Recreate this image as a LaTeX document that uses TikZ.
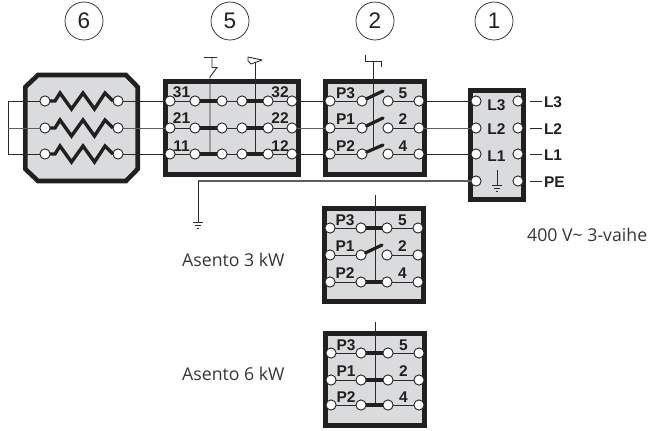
\documentclass[tikz,border=0pt]{standalone}
\usepackage{fontspec}
\setmainfont{Liberation Sans}
\newfontfamily\capfont{Open Sans}
\definecolor{ink}{HTML}{231F20}
\definecolor{panel}{HTML}{D9DBDC}
\definecolor{wiredark}{HTML}{2A2A2A}
\definecolor{wiregray}{HTML}{5E5E5E}
\tikzset{
  panelbox/.style={draw=ink,fill=panel,line width=4.6bp,rectangle,inner sep=0pt,outer sep=0pt,line join=miter},
  term/.style={circle,draw=ink,fill=white,line width=0.9bp,minimum size=10.2bp,inner sep=0pt,outer sep=0pt},
  wirea/.style={draw=wiredark,line width=0.9bp},
  wireb/.style={draw=wiregray,line width=1bp},
  rod/.style={draw=wiredark,line width=0.9bp},
  bar/.style={draw=ink,line width=3.6bp},
  blade/.style={draw=ink,line width=3.2bp,line cap=round},
  lab/.style={font=\bfseries\fontsize{15.5bp}{15.5bp}\selectfont,text=ink,inner sep=0pt,outer sep=0pt},
  captext/.style={font=\capfont\fontsize{17.7bp}{20bp}\selectfont,text=ink!90,inner sep=0pt,anchor=west},
  num/.style={circle,draw=ink,line width=0.7bp,minimum size=38bp,inner sep=0pt,font=\fontsize{22.5bp}{22.5bp}\selectfont,text=ink},
}
% contact row of a selector switch: name, y, x1..x4
\newcommand{\swrow}[6]{%
  \node[term] (#1a) at (#3,#2) {};
  \node[term] (#1b) at (#4,#2) {};
  \node[term] (#1c) at (#5,#2) {};
  \node[term] (#1d) at (#6,#2) {};
  \draw[wirea] (#1a) -- (#1b);
  \draw[wirea] (#1c) -- (#1d);
}
\begin{document}
\begin{tikzpicture}[x=1bp,y=-1bp]
\useasboundingbox (0,0) rectangle (649,430);
% numbered circles
\node[num] (n6) at (84,21) {6};
\node[num] (n5) at (230,21) {5};
\node[num] (n2) at (375,21) {2};
\node[num] (n1) at (494,21) {1};

% panels
\draw[panelbox] (38,75) -- (126,75) -- (137.7,87) -- (137.7,169) -- (126,181) -- (38,181) -- (25.3,169) -- (25.3,87) -- cycle;
\node[panelbox,minimum width=133.4bp,minimum height=93.4bp] (b5) at (232,128) {};
\node[panelbox,minimum width=99.4bp,minimum height=93.4bp] (b2) at (375,128) {};
\node[panelbox,minimum width=53.4bp,minimum height=109.4bp] (b1) at (497,145) {};
\node[panelbox,minimum width=99.4bp,minimum height=93.4bp] (bA) at (374,255) {};
\node[panelbox,minimum width=99.4bp,minimum height=92.4bp] (bB) at (375,379.5) {};

% box 5 actuator rods
\coordinate (z5a) at (204,57.5); \coordinate (z5b) at (217,57.5);
\coordinate (z5c) at (212,57.5); \coordinate (z5d) at (212,67.5);
\coordinate (z5e) at (217,67.5); \coordinate (z5f) at (210,77);
\coordinate (z5g) at (210,154);
\draw[rod] (z5a) -- (z5b) (z5c) -- (z5d) -- (z5e) -- (z5f) -- (z5g);
\coordinate (f5a) at (255,60); \coordinate (f5b) at (255,154);
\draw[rod] (f5a) -- (f5b);
\draw[rod,fill=white,line join=round] (248,57) -- (262,60) -- (251,64) -- (248,61) -- cycle;

% box 2 rod
\coordinate (t2a) at (365,55); \coordinate (t2b) at (365,61);
\coordinate (t2c) at (381,61); \coordinate (t2d) at (381,67);
\coordinate (t2e) at (373,61); \coordinate (t2f) at (373,149);
\draw[rod] (t2a) -- (t2b) -- (t2c) -- (t2d) (t2e) -- (t2f);
% lower rods
\coordinate (rAa) at (375,195); \coordinate (rAb) at (375,282);
\draw[rod] (rAa) -- (rAb);
\coordinate (rBa) at (375,322); \coordinate (rBb) at (375,405);
\draw[rod] (rBa) -- (rBb);

% box 6 terminals and resistors
\foreach \n/\y in {a/101,b/128,c/154}{
  \node[term] (r\n l) at (45,\y) {};
  \node[term] (r\n r) at (118,\y) {};
  \draw[draw=ink,line width=3.4bp,line join=miter] (r\n l.east) -- (55,\y) -- (60,\y-8) -- (71.5,\y+8) -- (83,\y-8) -- (94.5,\y+8) -- (105,\y-8) -- (113,\y);
}
% star point
\coordinate (sa) at (8,101); \coordinate (sb) at (8,128); \coordinate (sc) at (8,154);
\draw[wirea] (ral) -- (sa) -- (sc) -- (rcl);
\draw[wireb] (rbl) -- (sb);

% box 5 terminals
\foreach \n/\y in {a/101,b/128,c/154}{
  \node[term] (f\n1) at (170,\y) {};
  \node[term] (f\n2) at (195,\y) {};
  \node[term] (f\n3) at (222,\y) {};
  \node[term] (f\n4) at (242,\y) {};
  \node[term] (f\n5) at (268,\y) {};
  \node[term] (f\n6) at (292,\y) {};
  \draw[wirea] (f\n1) -- (f\n2);
  \draw[bar] (f\n2) -- (f\n3);
  \draw[wirea] (f\n3) -- (f\n4);
  \draw[bar] (f\n4) -- (f\n5);
  \draw[wirea] (f\n5) -- (f\n6);
}

% box 2 terminals
\swrow{sa}{101}{330}{362}{388}{419}
\swrow{sb}{128}{330}{362}{388}{419}
\swrow{sc}{154}{330}{362}{388}{419}
\coordinate (ba) at (383,91); \coordinate (bb) at (383,118); \coordinate (bc) at (383,145);
\draw[blade] (sab) -- (ba);
\draw[blade] (sbb) -- (bb);
\draw[blade] (scb) -- (bc);

% box 1 terminals
\foreach \n/\y in {a/101,b/128,c/154,d/181}{
  \node[term] (m\n l) at (476,\y) {};
  \node[term] (m\n r) at (518,\y) {};
}
% box A
\swrow{xa}{228}{330}{361}{387}{418}
\swrow{xb}{255}{330}{361}{387}{418}
\swrow{xc}{282}{330}{361}{387}{418}
\draw[bar] (xab) -- (xac);
\coordinate (xbl) at (382,245);
\draw[blade] (xbb) -- (xbl);
\draw[bar] (xcb) -- (xcc);
% box B
\swrow{ya}{353}{331}{361}{388}{419}
\swrow{yb}{380}{331}{361}{388}{419}
\swrow{yc}{405}{331}{361}{388}{419}
\draw[bar] (yab) -- (yac);
\draw[bar] (ybb) -- (ybc);
\draw[bar] (ycb) -- (ycc);

% inter-panel wiring
\draw[wirea] (rar) -- (fa1);
\draw[wireb] (rbr) -- (fb1);
\draw[wirea] (rcr) -- (fc1);
\draw[wirea] (fa6) -- (saa);
\draw[wireb] (fb6) -- (sba);
\draw[wirea] (fc6) -- (sca);
\draw[wirea] (sad) -- (mal);
\draw[wireb] (sbd) -- (mbl);
\draw[wirea] (scd) -- (mcl);

% protective earth wire
\coordinate (ga) at (198,181); \coordinate (gb) at (198,222);
\draw[wireb,line width=1.3bp] (mdl) -- (ga);
\draw[wirea] (ga) -- (gb);
\coordinate (g1a) at (193,222); \coordinate (g1b) at (203,222);
\coordinate (g2a) at (195,225); \coordinate (g2b) at (201,225);
\coordinate (g3a) at (197,228); \coordinate (g3b) at (199,228);
\draw[rod,line width=0.7bp] (g1a) -- (g1b) (g2a) -- (g2b) (g3a) -- (g3b);

% earth symbol in box 1
\coordinate (e0) at (497,170); \coordinate (e1) at (497,185);
\draw[rod] (e0) -- (e1);
\coordinate (e2a) at (492,185); \coordinate (e2b) at (502,185);
\coordinate (e3a) at (494,188); \coordinate (e3b) at (500,188);
\coordinate (e4a) at (496,191); \coordinate (e4b) at (498,191);
\draw[rod,line width=0.7bp] (e2a) -- (e2b) (e3a) -- (e3b) (e4a) -- (e4b);

% contact labels
\node[lab] (l31) at (181.5,92) {31};
\node[lab] (l21) at (181.5,118.5) {21};
\node[lab] (l11) at (181.5,146) {11};
\node[lab] (l32) at (280,92) {32};
\node[lab] (l22) at (280,118.5) {22};
\node[lab] (l12) at (280,146) {12};
\foreach \nm/\x/\ya/\yb/\yc in {p/345.5/93/119/146, q/345/220/246/273, r/346/345/371/397}{
  \node[lab] (\nm a) at (\x,\ya) {P3};
  \node[lab] (\nm b) at (\x,\yb) {P1};
  \node[lab] (\nm c) at (\x,\yc) {P2};
  \node[lab] (\nm d) at (\x+57.5,\ya) {5};
  \node[lab] (\nm e) at (\x+57.5,\yb) {2};
  \node[lab] (\nm f) at (\x+57.5,\yc) {4};
}
\node[lab] (il3) at (496.5,105) {L3};
\node[lab] (il2) at (496.5,129.5) {L2};
\node[lab] (il1) at (496.5,156) {L1};

% supply lines
\foreach \n/\y/\t in {a/101/L3,b/128/L2,c/154/L1,d/181/PE}{
  \node[lab,anchor=west] (o\n) at (544,\y+1) {\t};
  \coordinate (w\n) at (530,\y);
  \draw[wirea] (w\n) -- (542,\y);
}

% captions
\node[captext] (c3) at (182,260) {Asento 3 kW};
\node[captext] (c6) at (182,374) {Asento 6 kW};
\node[captext] (cv) at (527,235) {400 V\textasciitilde{} 3-vaihe};
\end{tikzpicture}
\end{document}
